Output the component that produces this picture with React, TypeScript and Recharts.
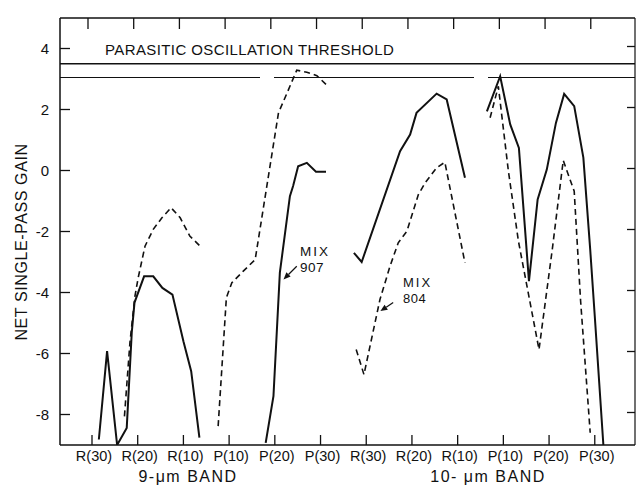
import { LineChart, Line, XAxis, YAxis, ReferenceLine } from "recharts";

// x position: 0..11 = tick index across both bands
const xTicks = [0, 1, 2, 3, 4, 5, 6, 7, 8, 9, 10, 11];
const xTickLabels = ["R(30)", "R(20)", "R(10)", "P(10)", "P(20)", "P(30)", "R(30)", "R(20)", "R(10)", "P(10)", "P(20)", "P(30)"];
const yTicks = [-8, -6, -4, -2, 0, 2, 4];

const thresholdHigh = 3.5;
const thresholdLow = 3.05;

// MIX 907 (solid)
const mix907Band9a = [[0.15, -8.82], [0.33, -5.92], [0.55, -9.0], [0.76, -8.44], [0.87, -5.31], [0.93, -4.33], [1.14, -3.47], [1.34, -3.47], [1.54, -3.85], [1.76, -4.07], [2.0, -5.6], [2.17, -6.58], [2.35, -8.76]];
const mix907Band9b = [[3.8, -8.93], [3.97, -7.4], [4.11, -3.35], [4.33, -0.84], [4.4, -0.51], [4.51, 0.14], [4.7, 0.25], [4.9, -0.04], [5.12, -0.04]];
const mix907Band10a = [[5.73, -2.7], [5.9, -3.0], [6.74, 0.63], [6.96, 1.18], [7.1, 1.89], [7.54, 2.52], [7.76, 2.33], [8.16, -0.24]];
const mix907Band10b = [[8.64, 1.94], [8.93, 3.09], [9.15, 1.51], [9.34, 0.74], [9.56, -3.63], [9.75, -0.95], [9.95, 0.03], [10.15, 1.56], [10.33, 2.51], [10.55, 2.11], [10.75, 0.42], [10.9, -2.59], [11.0, -4.78], [11.19, -9.04]];

// MIX 804 (dashed)
const mix804Band9a = [[0.71, -8.06], [0.83, -5.64], [0.94, -4.12], [1.01, -3.52], [1.16, -2.48], [1.34, -1.93], [1.53, -1.55], [1.73, -1.22], [1.93, -1.55], [2.14, -2.15], [2.4, -2.53]];
const mix804Band9b = [[2.76, -8.38], [2.94, -4.17], [3.06, -3.68], [3.31, -3.3], [3.57, -2.92], [4.08, 1.89], [4.27, 2.55], [4.48, 3.29], [4.7, 3.22], [4.92, 3.11], [5.12, 2.82]];
const mix804Band10a = [[5.78, -5.87], [5.95, -6.69], [6.3, -4.23], [6.52, -3.14], [6.7, -2.37], [6.89, -1.99], [7.14, -0.79], [7.29, -0.4], [7.54, 0.09], [7.72, 0.27], [8.16, -3.03]];
const mix804Band10b = [[8.71, 1.73], [8.89, 2.76], [9.11, -0.02], [9.33, -2.32], [9.78, -5.87], [10.07, -2.59], [10.31, 0.33], [10.55, -0.68], [10.69, -4.28], [10.9, -8.6]];

const solidSeries = [mix907Band9a, mix907Band9b, mix907Band10a, mix907Band10b];
const dashedSeries = [mix804Band9a, mix804Band9b, mix804Band10a, mix804Band10b];

// annotation arrows (tail -> head), in data units
const arrow907 = [[4.48, -3.14], [4.19, -3.57]];
const arrow804 = [[6.59, -4.33], [6.31, -4.61]];

const toRows = (pts: number[][]) => pts.map(([x, y]) => ({ x, y }));

const FONT = "'Liberation Sans', Arial, sans-serif";
const INK = "#111";

const BottomTick = ({ x, y, payload }: any) => (
  <g>
    <line x1={x} x2={x} y1={y} y2={y - 10} stroke={INK} strokeWidth={1.3} />
    <text x={x + 2} y={y + 16} textAnchor="middle" fontSize={14.5} fontFamily={FONT} fill={INK}>
      {xTickLabels[payload.value]}
    </text>
  </g>
);

const TopTick = ({ x, y }: any) => (
  <line x1={x - 4} x2={x - 4} y1={y} y2={y + 11} stroke={INK} strokeWidth={1.3} />
);

const LeftTick = ({ x, y, payload }: any) => (
  <g>
    <line x1={x} x2={x + 10} y1={y} y2={y} stroke={INK} strokeWidth={1.3} />
    <text x={x - 11} y={y + 5} textAnchor="end" fontSize={15} fontFamily={FONT} fill={INK}>
      {payload.value}
    </text>
  </g>
);

const RightTick = ({ x, y }: any) => (
  <line x1={x} x2={x - 8} y1={y - 2} y2={y - 2} stroke={INK} strokeWidth={1.3} />
);

const Arrow = (props: any) => {
  const { x1, y1, x2, y2 } = props;
  const a = Math.atan2(y2 - y1, x2 - x1);
  const len = 7;
  const w = 3;
  const bx = x2 - len * Math.cos(a);
  const by = y2 - len * Math.sin(a);
  const px = -Math.sin(a) * w;
  const py = Math.cos(a) * w;
  return (
    <g>
      <line x1={x1} y1={y1} x2={bx} y2={by} stroke={INK} strokeWidth={1.2} />
      <polygon points={`${x2},${y2} ${bx + px},${by + py} ${bx - px},${by - py}`} fill={INK} />
    </g>
  );
};

export default function App() {
  return (
    <div style={{ position: "absolute", left: 0, top: 0, width: 637, height: 487, background: "#fff" }}>
      <LineChart width={637} height={487} margin={{ top: 17, right: 1, bottom: 0, left: 0 }}>
        <XAxis
          dataKey="x"
          type="number"
          domain={[-0.7, 11.88]}
          ticks={xTicks}
          allowDataOverflow
          height={42}
          tickSize={0}
          tickMargin={0}
          tickLine={false}
          tick={<BottomTick />}
          axisLine={{ stroke: INK, strokeWidth: 1.5 }}
          interval={0}
        />
        <XAxis
          xAxisId="top"
          orientation="top"
          dataKey="x"
          type="number"
          domain={[-0.7, 11.88]}
          ticks={xTicks}
          allowDataOverflow
          height={1}
          tickSize={0}
          tickMargin={0}
          tickLine={false}
          tick={<TopTick />}
          axisLine={{ stroke: INK, strokeWidth: 1.5 }}
          interval={0}
        />
        <YAxis
          type="number"
          domain={[-9, 5]}
          ticks={yTicks}
          allowDataOverflow
          width={60}
          tickSize={0}
          tickMargin={0}
          tickLine={false}
          tick={<LeftTick />}
          axisLine={{ stroke: INK, strokeWidth: 1.5 }}
          interval={0}
        />
        <YAxis
          yAxisId="right"
          orientation="right"
          type="number"
          domain={[-9, 5]}
          ticks={yTicks}
          allowDataOverflow
          width={1}
          tickSize={0}
          tickMargin={0}
          tickLine={false}
          tick={<RightTick />}
          axisLine={{ stroke: INK, strokeWidth: 1.2 }}
          interval={0}
        />
        <ReferenceLine y={thresholdHigh} stroke={INK} strokeWidth={1.4} />
        <ReferenceLine y={thresholdLow} stroke={INK} strokeWidth={1.2} strokeDasharray="200 14" />
        {solidSeries.map((s, i) => (
          <Line
            key={`s${i}`}
            data={toRows(s)}
            dataKey="y"
            type="linear"
            stroke={INK}
            strokeWidth={2}
            dot={false}
            isAnimationActive={false}
          />
        ))}
        {dashedSeries.map((s, i) => (
          <Line
            key={`d${i}`}
            data={toRows(s)}
            dataKey="y"
            type="linear"
            stroke={INK}
            strokeWidth={1.6}
            strokeDasharray="6 4"
            dot={false}
            isAnimationActive={false}
          />
        ))}
        <ReferenceLine
          segment={arrow907.map(([x, y]) => ({ x, y }))}
          shape={<Arrow />}
        />
        <ReferenceLine
          segment={arrow804.map(([x, y]) => ({ x, y }))}
          shape={<Arrow />}
        />
      </LineChart>
      <svg
        width={637}
        height={487}
        style={{ position: "absolute", left: 0, top: 0, pointerEvents: "none" }}
        fontFamily={FONT}
        fill={INK}
      >
        <text x={105} y={55} fontSize={15} letterSpacing={0.4}>PARASITIC OSCILLATION THRESHOLD</text>
        <text x={27} y={242} fontSize={16} letterSpacing={0.6} textAnchor="middle" transform="rotate(-90 27 242)">
          NET SINGLE-PASS GAIN
        </text>
        <text x={188} y={482} fontSize={16} letterSpacing={1.5} textAnchor="middle">9-μm BAND</text>
        <text x={488} y={482} fontSize={16} letterSpacing={1.5} textAnchor="middle">10- μm BAND</text>
        <text x={300} y={256} fontSize={13.5} letterSpacing={2}>MIX</text>
        <text x={300} y={272} fontSize={13.5} letterSpacing={0.5}>907</text>
        <text x={403} y={287} fontSize={13} letterSpacing={2}>MIX</text>
        <text x={403} y={303} fontSize={13} letterSpacing={0.5}>804</text>
      </svg>
    </div>
  );
}
